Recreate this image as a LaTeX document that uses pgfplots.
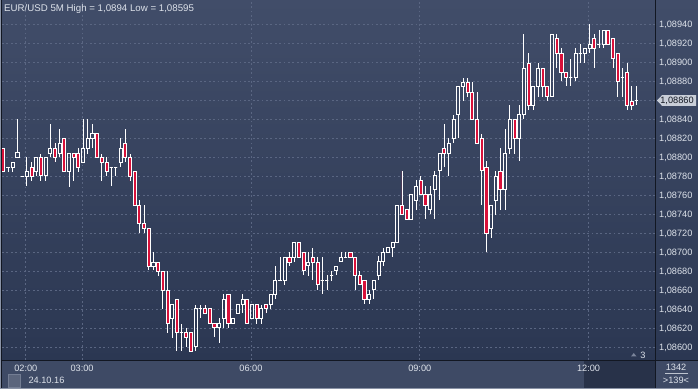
\documentclass[border=0pt]{standalone}
\usepackage{pgfplots}
\pgfplotsset{compat=1.18}
\usepgfplotslibrary{statistics}
\usepackage{fontspec}
\setmainfont{Liberation Sans}
\definecolor{bgtop}{HTML}{414D69}
\definecolor{bgbot}{HTML}{2B3752}
\definecolor{panel}{HTML}{3E4A65}
\definecolor{darkbox}{HTML}{283249}
\definecolor{candlered}{HTML}{D8113A}
\definecolor{gridc}{HTML}{5A6682}
\definecolor{txt}{HTML}{DDE2EA}
\definecolor{sep}{HTML}{121722}
\definecolor{edge}{HTML}{8A93A6}
\definecolor{tagc}{HTML}{C9CED8}
\pgfplotsset{
  bullstyle/.style={draw=white, line width=0.8bp, fill=none},
  bearstyle/.style={draw=white, line width=0.8bp, fill=candlered},
}
% #1 index, #2 open, #3 high, #4 low, #5 close
\newcommand{\bull}[5]{\addplot[bullstyle, boxplot prepared={draw position=#1, lower whisker=#4, lower quartile=#2, median=#2, upper quartile=#5, upper whisker=#3}] coordinates {};}
\newcommand{\bear}[5]{\addplot[bearstyle, boxplot prepared={draw position=#1, lower whisker=#4, lower quartile=#5, median=#5, upper quartile=#2, upper whisker=#3}] coordinates {};}
\begin{document}
\begin{tikzpicture}
\useasboundingbox (0,0) rectangle (698bp,389bp);
\fill[panel] (0,0) rectangle (698bp,389bp);
\shade[top color=bgtop, bottom color=bgbot] (0bp,28bp) rectangle (698bp,389bp);
\fill[darkbox] (584bp,1.5bp) rectangle (655bp,27.6bp);
\draw[edge!70!panel, fill=panel!85!white] (8bp,2.3bp) rectangle (20.5bp,15bp);
\begin{axis}[
  at={(2bp,29bp)}, anchor=south west, scale only axis,
  width=653bp, height=360bp,
  xmin=-0.28, xmax=138.96, ymin=1.0858684, ymax=1.0896579,
  axis line style={draw=none}, major tick length=0pt,
  xtick={4.8,16.8,52.8,88.8,124.8},
  xticklabels={02:00,03:00,06:00,09:00,12:00},
  ytick={1.086,1.0862,1.0864,1.0866,1.0868,1.087,1.0872,1.0874,1.0876,1.0878,1.088,1.0882,1.0884,1.0886,1.0888,1.089,1.0892,1.0894},
  yticklabels={{1,08600},{1,08620},{1,08640},{1,08660},{1,08680},{1,08700},{1,08720},{1,08740},{1,08760},{1,08780},{1,08800},{1,08820},{1,08840},{1,08860},{1,08880},{1,08900},{1,08920},{1,08940}},
  yticklabel pos=right,
  grid=major,
  grid style={gridc, dash pattern=on 1.8bp off 2.6bp, line width=0.8bp},
  ticklabel style={font=\fontsize{9.2bp}{11bp}\selectfont, text=txt},
  x tick label style={anchor=base, yshift=-11.5bp, inner sep=0pt},
  y tick label style={anchor=west, inner sep=0pt, xshift=4bp},
  boxplot/draw direction=y,
  boxplot/box extend=0.66,
  boxplot/whisker extend=0,
]
\bear{0}{1.08810}{1.08810}{1.08785}{1.08785}
\bull{1}{1.08790}{1.08790}{1.08785}{1.08790}
\bull{2}{1.08790}{1.08795}{1.08785}{1.08795}
\bull{3}{1.08800}{1.08841}{1.08800}{1.08805}
\bull{4}{1.08780}{1.08781}{1.08780}{1.08780}
\bull{5}{1.08780}{1.08800}{1.08770}{1.08785}
\bear{6}{1.08790}{1.08795}{1.08775}{1.08780}
\bull{7}{1.08785}{1.08800}{1.08781}{1.08800}
\bear{8}{1.08800}{1.08804}{1.08775}{1.08781}
\bull{9}{1.08781}{1.08800}{1.08775}{1.08800}
\bull{10}{1.08804}{1.08835}{1.08800}{1.08810}
\bear{11}{1.08810}{1.08815}{1.08795}{1.08800}
\bull{12}{1.08804}{1.08830}{1.08800}{1.08815}
\bear{13}{1.08820}{1.08820}{1.08785}{1.08785}
\bull{14}{1.08785}{1.08804}{1.08769}{1.08804}
\bear{15}{1.08804}{1.08804}{1.08775}{1.08800}
\bear{16}{1.08804}{1.08810}{1.08785}{1.08790}
\bull{17}{1.08795}{1.08841}{1.08795}{1.08810}
\bull{18}{1.08810}{1.08841}{1.08804}{1.08820}
\bull{19}{1.08820}{1.08835}{1.08810}{1.08825}
\bear{20}{1.08825}{1.08825}{1.08800}{1.08800}
\bear{21}{1.08800}{1.08804}{1.08775}{1.08795}
\bear{22}{1.08795}{1.08800}{1.08780}{1.08785}
\bull{23}{1.08790}{1.08790}{1.08770}{1.08790}
\bull{24}{1.08790}{1.08790}{1.08780}{1.08790}
\bull{25}{1.08795}{1.08820}{1.08790}{1.08810}
\bear{26}{1.08815}{1.08830}{1.08795}{1.08800}
\bear{27}{1.08800}{1.08804}{1.08775}{1.08780}
\bear{28}{1.08785}{1.08785}{1.08750}{1.08750}
\bear{29}{1.08750}{1.08755}{1.08720}{1.08731}
\bear{30}{1.08731}{1.08750}{1.08720}{1.08725}
\bear{31}{1.08725}{1.08725}{1.08682}{1.08685}
\bull{32}{1.08685}{1.08701}{1.08682}{1.08690}
\bear{33}{1.08690}{1.08690}{1.08675}{1.08680}
\bear{34}{1.08680}{1.08680}{1.08641}{1.08660}
\bear{35}{1.08660}{1.08680}{1.08615}{1.08625}
\bull{36}{1.08631}{1.08645}{1.08610}{1.08645}
\bear{37}{1.08651}{1.08651}{1.08596}{1.08616}
\bull{38}{1.08616}{1.08625}{1.08596}{1.08616}
\bear{39}{1.08616}{1.08621}{1.08601}{1.08611}
\bear{40}{1.08616}{1.08616}{1.08595}{1.08596}
\bull{41}{1.08601}{1.08645}{1.08596}{1.08641}
\bull{42}{1.08641}{1.08645}{1.08631}{1.08641}
\bear{43}{1.08641}{1.08645}{1.08636}{1.08636}
\bear{44}{1.08641}{1.08641}{1.08625}{1.08625}
\bear{45}{1.08625}{1.08625}{1.08611}{1.08621}
\bull{46}{1.08621}{1.08631}{1.08605}{1.08625}
\bull{47}{1.08631}{1.08656}{1.08621}{1.08651}
\bear{48}{1.08656}{1.08656}{1.08621}{1.08625}
\bull{49}{1.08625}{1.08631}{1.08625}{1.08631}
\bull{50}{1.08636}{1.08645}{1.08636}{1.08645}
\bull{51}{1.08645}{1.08656}{1.08636}{1.08651}
\bear{52}{1.08651}{1.08651}{1.08625}{1.08625}
\bull{53}{1.08631}{1.08645}{1.08631}{1.08645}
\bear{54}{1.08645}{1.08645}{1.08625}{1.08631}
\bull{55}{1.08631}{1.08645}{1.08625}{1.08641}
\bear{56}{1.08645}{1.08645}{1.08636}{1.08641}
\bull{57}{1.08645}{1.08656}{1.08641}{1.08656}
\bull{58}{1.08656}{1.08686}{1.08651}{1.08671}
\bull{59}{1.08671}{1.08695}{1.08671}{1.08671}
\bull{60}{1.08671}{1.08695}{1.08666}{1.08695}
\bear{61}{1.08695}{1.08700}{1.08686}{1.08690}
\bull{62}{1.08695}{1.08711}{1.08690}{1.08711}
\bear{63}{1.08711}{1.08711}{1.08695}{1.08695}
\bear{64}{1.08700}{1.08700}{1.08676}{1.08681}
\bull{65}{1.08686}{1.08700}{1.08675}{1.08690}
\bear{66}{1.08695}{1.08705}{1.08671}{1.08690}
\bear{67}{1.08690}{1.08695}{1.08661}{1.08666}
\bull{68}{1.08671}{1.08695}{1.08656}{1.08671}
\bull{69}{1.08671}{1.08676}{1.08661}{1.08671}
\bull{70}{1.08676}{1.08681}{1.08670}{1.08676}
\bull{71}{1.08681}{1.08685}{1.08676}{1.08685}
\bull{72}{1.08691}{1.08700}{1.08691}{1.08695}
\bull{73}{1.08695}{1.08700}{1.08695}{1.08695}
\bear{74}{1.08700}{1.08700}{1.08695}{1.08695}
\bear{75}{1.08695}{1.08695}{1.08661}{1.08676}
\bear{76}{1.08676}{1.08681}{1.08666}{1.08666}
\bear{77}{1.08671}{1.08671}{1.08646}{1.08651}
\bull{78}{1.08651}{1.08661}{1.08646}{1.08656}
\bull{79}{1.08661}{1.08671}{1.08651}{1.08671}
\bull{80}{1.08676}{1.08696}{1.08671}{1.08691}
\bull{81}{1.08691}{1.08705}{1.08686}{1.08700}
\bull{82}{1.08700}{1.08705}{1.08700}{1.08705}
\bull{83}{1.08705}{1.08711}{1.08695}{1.08711}
\bull{84}{1.08711}{1.08750}{1.08711}{1.08750}
\bear{85}{1.08750}{1.08786}{1.08740}{1.08740}
\bear{86}{1.08745}{1.08745}{1.08735}{1.08735}
\bull{87}{1.08735}{1.08761}{1.08735}{1.08761}
\bull{88}{1.08755}{1.08776}{1.08745}{1.08770}
\bear{89}{1.08776}{1.08781}{1.08761}{1.08761}
\bear{90}{1.08761}{1.08770}{1.08735}{1.08750}
\bull{91}{1.08745}{1.08770}{1.08740}{1.08761}
\bull{92}{1.08766}{1.08786}{1.08735}{1.08781}
\bull{93}{1.08786}{1.08804}{1.08755}{1.08804}
\bear{94}{1.08810}{1.08835}{1.08790}{1.08804}
\bull{95}{1.08804}{1.08820}{1.08781}{1.08815}
\bull{96}{1.08820}{1.08845}{1.08815}{1.08840}
\bull{97}{1.08845}{1.08875}{1.08820}{1.08875}
\bull{98}{1.08875}{1.08884}{1.08859}{1.08879}
\bear{99}{1.08879}{1.08884}{1.08864}{1.08869}
\bear{100}{1.08869}{1.08879}{1.08840}{1.08840}
\bear{101}{1.08840}{1.08869}{1.08815}{1.08815}
\bear{102}{1.08820}{1.08825}{1.08750}{1.08786}
\bear{103}{1.08790}{1.08796}{1.08700}{1.08720}
\bull{104}{1.08725}{1.08750}{1.08715}{1.08750}
\bull{105}{1.08755}{1.08786}{1.08739}{1.08780}
\bear{106}{1.08785}{1.08810}{1.08745}{1.08766}
\bull{107}{1.08766}{1.08830}{1.08745}{1.08804}
\bull{108}{1.08810}{1.08855}{1.08804}{1.08840}
\bear{109}{1.08840}{1.08840}{1.08804}{1.08820}
\bull{110}{1.08820}{1.08855}{1.08796}{1.08845}
\bull{111}{1.08845}{1.08930}{1.08840}{1.08894}
\bear{112}{1.08899}{1.08910}{1.08850}{1.08855}
\bull{113}{1.08855}{1.08875}{1.08850}{1.08875}
\bull{114}{1.08875}{1.08899}{1.08864}{1.08894}
\bear{115}{1.08894}{1.08894}{1.08864}{1.08875}
\bear{116}{1.08875}{1.08875}{1.08859}{1.08864}
\bull{117}{1.08864}{1.08930}{1.08864}{1.08930}
\bear{118}{1.08925}{1.08930}{1.08894}{1.08910}
\bear{119}{1.08910}{1.08915}{1.08880}{1.08890}
\bear{120}{1.08890}{1.08890}{1.08875}{1.08884}
\bull{121}{1.08884}{1.08904}{1.08875}{1.08884}
\bull{122}{1.08884}{1.08915}{1.08880}{1.08910}
\bull{123}{1.08910}{1.08919}{1.08899}{1.08910}
\bull{124}{1.08910}{1.08915}{1.08899}{1.08915}
\bull{125}{1.08915}{1.08940}{1.08910}{1.08919}
\bear{126}{1.08925}{1.08930}{1.08894}{1.08915}
\bull{127}{1.08919}{1.08934}{1.08915}{1.08919}
\bull{128}{1.08919}{1.08934}{1.08915}{1.08934}
\bear{129}{1.08934}{1.08934}{1.08919}{1.08919}
\bear{130}{1.08925}{1.08925}{1.08894}{1.08904}
\bear{131}{1.08910}{1.08910}{1.08864}{1.08880}
\bull{132}{1.08884}{1.08894}{1.08864}{1.08884}
\bear{133}{1.08890}{1.08899}{1.08850}{1.08855}
\bear{134}{1.08859}{1.08875}{1.08850}{1.08855}
\bull{135}{1.08860}{1.08875}{1.08855}{1.08860}
\end{axis}
% frame lines
\draw[sep, line width=1.2bp] (655.5bp,0bp) -- (655.5bp,389bp);
\draw[sep, line width=1.2bp] (0bp,28.2bp) -- (698bp,28.2bp);
\fill[edge] (0bp,0bp) rectangle (1.1bp,389bp);
\draw[sep, line width=0.8bp] (1.6bp,0bp) -- (1.6bp,389bp);
\fill[edge] (0bp,0bp) rectangle (698bp,1.4bp);
% title
\node[anchor=base west, inner sep=0pt, text=txt, font=\fontsize{9.7bp}{11bp}\selectfont] at (4bp,377.3bp) {EUR/USD 5M High = 1,0894 Low = 1,08595};
% date under first time label
\node[anchor=base, inner sep=0pt, text=txt, font=\fontsize{9.2bp}{11bp}\selectfont] at (46.5bp,5.8bp) {24.10.16};
% current price tag
\fill[tagc] (657bp,288.5bp) -- (662bp,293.8bp) -- (696bp,293.8bp) -- (696bp,283.2bp) -- (662bp,283.2bp) -- cycle;
\node[anchor=center, inner sep=0pt, text=sep, font=\fontsize{9.2bp}{11bp}\selectfont] at (677bp,288.3bp) {1,08860};
% bottom right counters
\node[anchor=center, inner sep=0pt, text=txt, font=\fontsize{9.2bp}{11bp}\selectfont] at (676bp,21.5bp) {1342};
\draw[txt!80!panel, line width=0.6bp] (665bp,15.6bp) -- (688bp,15.6bp);
\node[anchor=center, inner sep=0pt, text=txt, font=\fontsize{9.2bp}{11bp}\selectfont] at (676bp,8.2bp) {>139<};
% small marker near bottom right of plot
\fill[gridc!80!white] (631bp,32.5bp) -- (636.5bp,32.5bp) -- (633.75bp,36bp) -- cycle;
\node[anchor=base, inner sep=0pt, text=txt, font=\fontsize{9.2bp}{11bp}\selectfont] at (643bp,31bp) {3};
\end{tikzpicture}
\end{document}
